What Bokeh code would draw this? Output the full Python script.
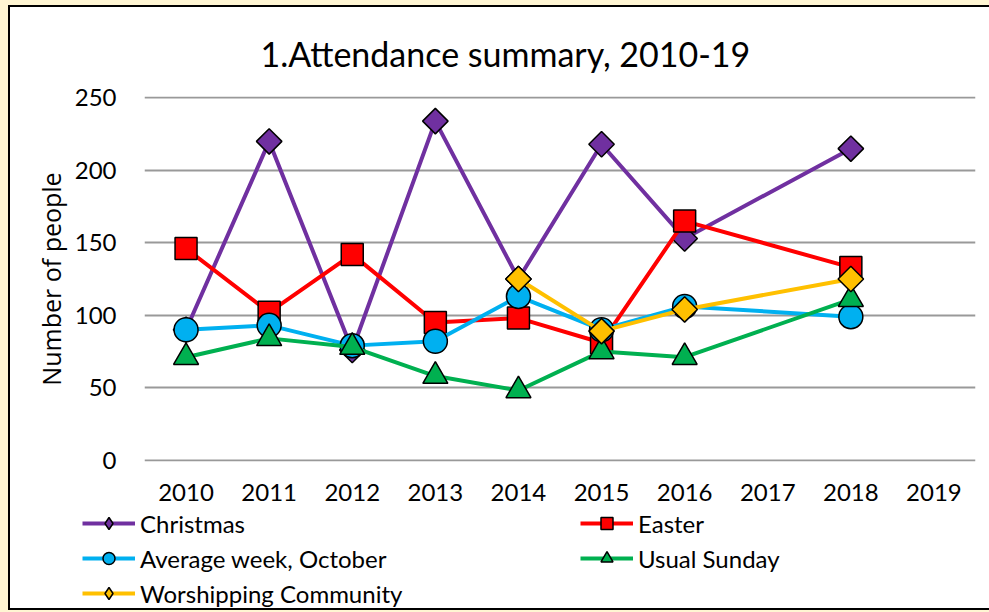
import numpy as np
from bokeh.plotting import figure
from bokeh.layouts import column
from bokeh.models import (FixedTicker, Legend, LegendItem, Range1d,
                          GlobalInlineStyleSheet)
from bokeh.embed import file_html
from bokeh.resources import INLINE

# ---- data ----
years = [2010, 2011, 2012, 2013, 2014, 2015, 2016, 2017, 2018, 2019]
y_ticks = [0, 50, 100, 150, 200, 250]

christmas_x = [2010, 2011, 2012, 2013, 2014, 2015, 2016, 2018]
christmas_y = [90, 220, 76, 234, 125, 218, 153, 215]

easter_x = [2010, 2011, 2012, 2013, 2014, 2015, 2016, 2018]
easter_y = [146, 102, 142, 95, 98, 81, 165, 133]

avg_week_x = [2010, 2011, 2012, 2013, 2014, 2015, 2016, 2018]
avg_week_y = [90, 93, 79, 82, 113, 90, 106, 99]

usual_sunday_x = [2010, 2011, 2012, 2013, 2014, 2015, 2016, 2018]
usual_sunday_y = [71, 84, 78, 58, 48, 75, 71, 111]

worship_x = [2014, 2015, 2016, 2018]
worship_y = [125, 89, 104, 125]

FONT = "Lato"

p = figure(width=979, height=498, output_backend="svg", toolbar_location=None,
           x_range=(2009.5, 2019.5), y_range=(-1, 251),
           min_border_left=134, min_border_right=14,
           min_border_top=89, min_border_bottom=44,
           background_fill_color="white", border_fill_color="white",
           outline_line_color=None)

p.title.text = "1.Attendance summary, 2010-19"
p.title.text_font = FONT
p.title.text_font_size = "34px"
p.title.text_font_style = "normal"
p.title.text_color = "black"
p.title.align = "left"
p.title.offset = 116
p.title.standoff = 46

p.xgrid.grid_line_color = None
p.ygrid.grid_line_color = "#999999"
p.ygrid.grid_line_width = 2
p.ygrid.ticker = FixedTicker(ticks=y_ticks)

p.xaxis.ticker = FixedTicker(ticks=years)
p.yaxis.ticker = FixedTicker(ticks=y_ticks)
for ax in (p.xaxis[0], p.yaxis[0]):
    ax.axis_line_color = None
    ax.major_tick_line_color = None
    ax.minor_tick_line_color = None
    ax.major_label_text_font = FONT
    ax.major_label_text_font_size = "24px"
    ax.major_label_text_color = "black"
p.xaxis.major_label_standoff = 16
p.yaxis.major_label_standoff = 22
p.yaxis.axis_label = "Number of people"
p.yaxis.axis_label_text_font = "Open Sans"
p.yaxis.axis_label_text_font_size = "25px"
p.yaxis.axis_label_text_font_style = "normal"
p.yaxis.axis_label_text_color = "black"
p.yaxis.axis_label_standoff = 4

# name, x, y, colour, chart marker, size, angle, legend marker, legend size
series = [
    ("Christmas", christmas_x, christmas_y, "#7030A0", "square", 18, np.pi / 4, "diamond", 24),
    ("Easter", easter_x, easter_y, "#FF0000", "square", 22, 0, "square", 22),
    ("Average week, October", avg_week_x, avg_week_y, "#00B0F0", "circle", 24, 0, "circle", 24),
    ("Usual Sunday", usual_sunday_x, usual_sunday_y, "#00B050", "triangle", 25, 0, "triangle", 25),
    ("Worshipping Community", worship_x, worship_y, "#FFC000", "square", 18, np.pi / 4, "diamond", 24),
]

# legend strip below the chart (its own renderers are kept out of view)
lf = figure(width=979, height=103, output_backend="svg", toolbar_location=None,
            x_axis_location=None, y_axis_location=None,
            x_range=Range1d(0, 1), y_range=Range1d(0, 1),
            min_border=0, min_border_left=0, min_border_right=0,
            min_border_top=0, min_border_bottom=0,
            outline_line_color=None,
            background_fill_color="white", border_fill_color="white")
lf.grid.visible = False
if "frame_align" in lf.properties():
    lf.frame_align = False
    p.frame_align = False

items = {}
for name, xs, ys, color, marker, size, ang, lmarker, lsize in series:
    p.line(xs, ys, line_color=color, line_width=4)
    p.scatter(xs, ys, marker=marker, size=size, angle=ang,
              fill_color=color, line_color="black", line_width=1.5)
    lr = lf.line(xs, ys, line_color=color, line_width=4)
    sr = lf.scatter(xs, ys, marker=lmarker, size=lsize,
                    fill_color=color, line_color="black", line_width=1.5)
    items[name] = LegendItem(label=name, renderers=[lr, sr])

def make_legend(names, loc):
    lg = Legend(items=[items[n] for n in names], location=loc,
                orientation="vertical", background_fill_alpha=0,
                border_line_color=None, padding=0, margin=0, spacing=5,
                glyph_width=53, glyph_height=30, label_height=30,
                label_standoff=5, label_text_font=FONT,
                label_text_font_size="24px", label_text_color="black")
    lf.add_layout(lg, "center")

make_legend(["Christmas", "Average week, October", "Worshipping Community"], (72, 0))
make_legend(["Easter", "Usual Sunday"], (570, 35))

layout = column(p, column(lf), spacing=0,
                styles={"border-left": "2px solid black",
                        "border-top": "2px solid black",
                        "border-bottom": "2px solid black",
                        "background": "white"})
layout.stylesheets = [GlobalInlineStyleSheet(
    css="html, body { background: #FFF6D3; margin: 0; overflow: hidden; } "
        "body { padding: 5px 0 0 8px; }")]

open("out.html", "w").write(file_html(layout, INLINE))
